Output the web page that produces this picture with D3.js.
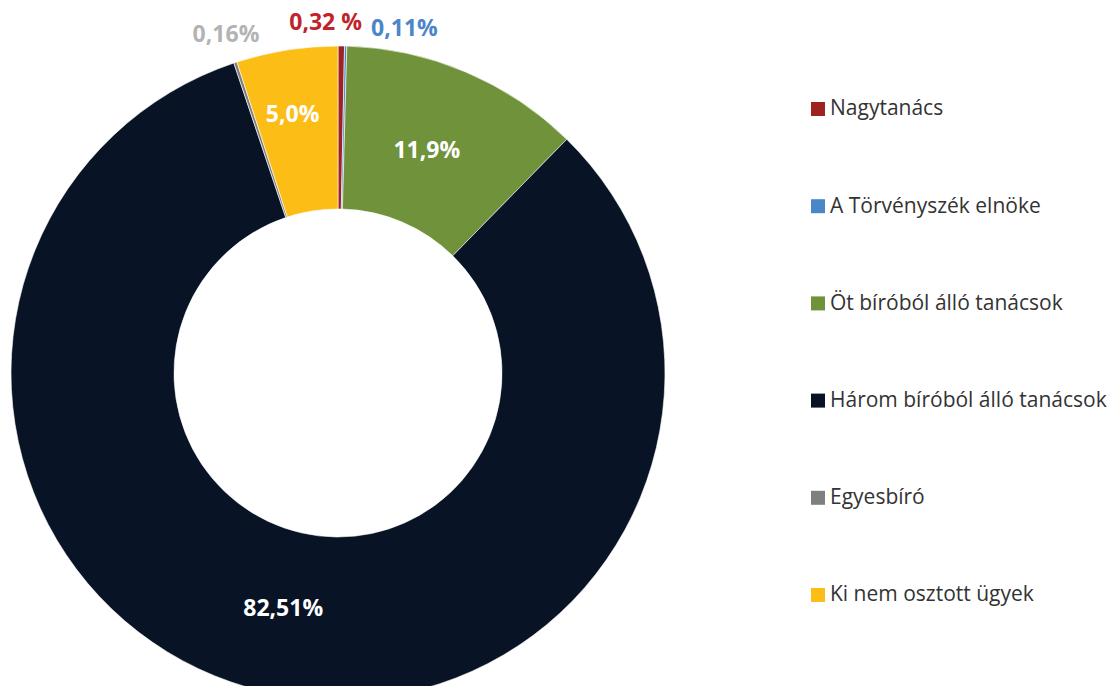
<!DOCTYPE html>
<html>
<head>
<meta charset="utf-8">
<script src="https://cdn.jsdelivr.net/npm/d3@7"></script>
<style>
  body { margin: 0; background: #fff; }
  svg { display: block; font-family: "Open Sans", sans-serif; }
</style>
</head>
<body>
<svg id="chart"></svg>
<script>
const categories = ["Nagytanács", "A Törvényszék elnöke", "Öt bíróból álló tanácsok",
  "Három bíróból álló tanácsok", "Egyesbíró", "Ki nem osztott ügyek"];
const values = [0.32, 0.11, 11.9, 82.51, 0.16, 5.0];
const labels = ["0,32 %", "0,11%", "11,9%", "82,51%", "0,16%", "5,0%"];
const colors = ["#9e2320", "#4a86c8", "#6f923a", "#081426", "#7f7f7f", "#fbbd16"];
const labelColors = ["#c0232a", "#4a86c8", "#fff", "#fff", "#b3b3b3", "#fff"];

const W = 1110, H = 686;
const cx = 338, cy = 373, R = 327, r = 164;

const svg = d3.select("#chart").attr("width", W).attr("height", H);
const g = svg.append("g").attr("transform", `translate(${cx},${cy})`);

const data = categories.map((c, i) => ({ name: c, value: values[i], label: labels[i], i }));

const pie = d3.pie().value(d => d.value).sort(null);
const arcs = pie(data);
const arc = d3.arc().innerRadius(r).outerRadius(R);

g.selectAll("path")
  .data(arcs)
  .enter()
  .append("path")
  .attr("d", arc)
  .attr("fill", d => colors[d.data.i])
  .attr("stroke", "#fff")
  .attr("stroke-width", 0.6);

// labels: big slices inside, small slices outside the ring
const inner = d3.arc().innerRadius(r + 8).outerRadius(R - 8);
const outer = d3.arc().innerRadius(R + 30).outerRadius(R + 30);
// nudges so the labels sit where the original put them
const nudge = { 0: [-16, 6], 1: [58, 12], 2: [-7, 3], 3: [0, -4], 4: [0, 0], 5: [-7, -17] };

g.selectAll("text.lbl")
  .data(arcs)
  .enter()
  .append("text")
  .attr("class", "lbl")
  .attr("transform", d => {
    const small = d.data.value < 1;
    const p = small ? outer.centroid(d) : inner.centroid(d);
    const n = nudge[d.data.i] || [0, 0];
    return `translate(${p[0] + n[0]},${p[1] + n[1]})`;
  })
  .attr("text-anchor", "middle")
  .attr("dy", "0.35em")
  .attr("font-size", 23)
  .attr("font-weight", 700)
  .attr("fill", d => labelColors[d.data.i])
  .text(d => d.data.label);

// legend
const legend = svg.append("g").attr("transform", "translate(811,0)");
const ly = d3.scalePoint().domain(categories).range([108, 594]);

const item = legend.selectAll("g")
  .data(data)
  .enter()
  .append("g")
  .attr("transform", d => `translate(0,${ly(d.name)})`);

item.append("rect")
  .attr("x", 0).attr("y", -6)
  .attr("width", 14).attr("height", 14)
  .attr("fill", d => colors[d.i]);

item.append("text")
  .attr("x", 19)
  .attr("dy", "0.35em")
  .attr("font-size", 21)
  .attr("fill", "#333")
  .text(d => d.name);
</script>
</body>
</html>
